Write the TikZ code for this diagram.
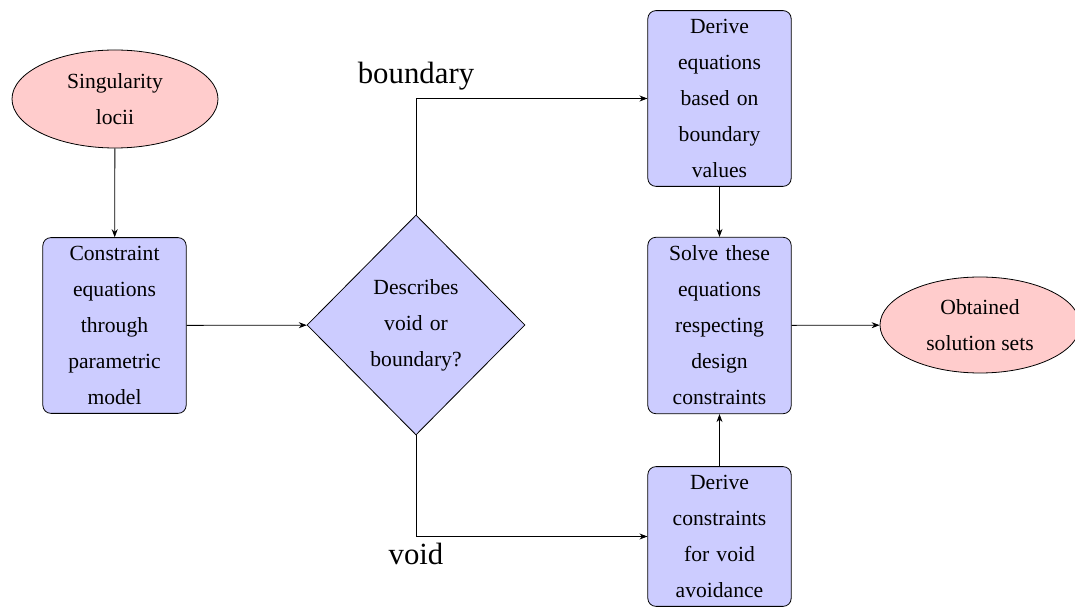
\documentclass[tikz,border=0pt]{standalone}
\usepackage{fontspec}
\setmainfont{Liberation Serif}
\usepackage{tikz}
\usetikzlibrary{arrows.meta, positioning, shapes.geometric}

\begin{document}
\begin{tikzpicture}[
  x=0.5pt, y=-0.5pt,
  block/.style={rectangle, draw, rounded corners=4pt, fill=blue!20,
                text width=65pt, inner ysep=4.3pt, align=center,
                font=\fontsize{10.8}{18}\selectfont},
  decide/.style={diamond, draw, fill=blue!20, text width=52pt,
                 inner sep=0pt, minimum width=109pt, minimum height=110pt,
                 align=center, font=\fontsize{10.8}{18}\selectfont},
  term/.style={ellipse, draw, fill=red!20, minimum width=103pt,
               minimum height=49pt, align=center,
               font=\fontsize{10.8}{18}\selectfont},
  lbl/.style={font=\fontsize{15.4}{18}\selectfont},
  arrow/.style={-{Stealth[length=4pt, width=3pt]}},
]
\useasboundingbox (0,0) rectangle (1075,608);

% ---- start / end ----
\node[term] (sing) at (115, 99)  {Singularity\\locii};
\node[term, minimum width=100pt, minimum height=48pt] (obt) at (980, 325) {Obtained\\solution sets};

% ---- blocks ----
\node[block] (cons) at (114.5, 325.5) {Constraint equations through parametric model};
\node[decide] (dec) at (416, 325) {Describes\\void or\\boundary?};
\node[block] (derb) at (719.5, 98.5)  {Derive equations based on boundary values};
\node[block] (solv) at (719.5, 325.5) {Solve these equations respecting design constraints};
\node[block] (derv) at (719.5, 536.5) {Derive constraints for void avoidance};

% ---- connectors ----
\draw[arrow] (sing) -- (cons);
\draw[arrow] (cons) -- (dec);
\draw[arrow] (dec.north) |- node[lbl, above=0.5pt] {boundary} (derb.west);
\draw[arrow] (dec.south) |- node[lbl, below] {void} (derv.west);
\draw[arrow] (derb) -- (solv);
\draw[arrow] (derv) -- (solv);
\draw[arrow] (solv) -- (obt);

\end{tikzpicture}
\end{document}
